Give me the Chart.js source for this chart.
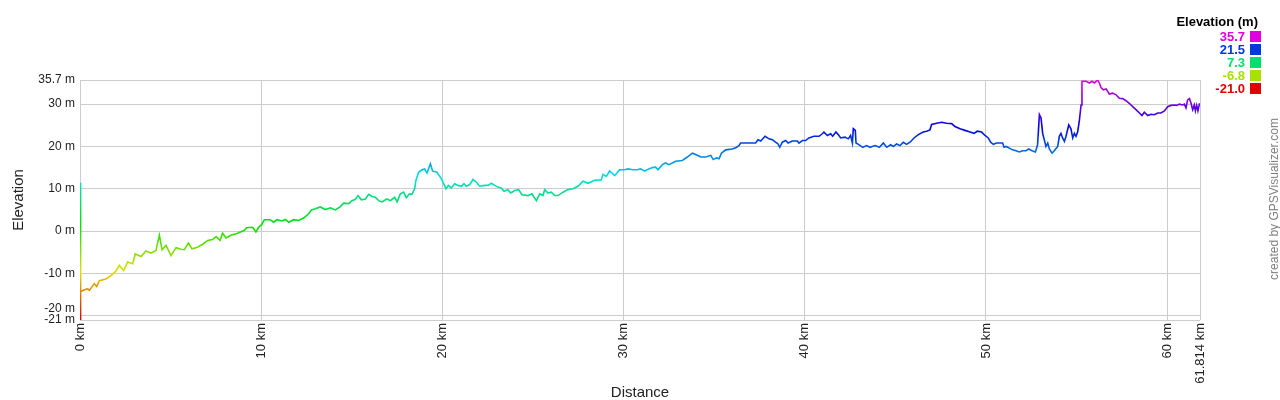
<!DOCTYPE html>
<html>
<head>
<meta charset="utf-8">
<script src="https://cdn.jsdelivr.net/npm/chart.js@4/dist/chart.umd.min.js"></script>
<style>
html,body{margin:0;padding:0;background:#fff;}
#wrap{position:relative;width:1280px;height:400px;overflow:hidden;font-family:"Liberation Sans",Arial,sans-serif;}
canvas{position:absolute;left:0;top:0;}
#legTitle{position:absolute;right:22px;top:14px;font-weight:bold;font-size:13px;line-height:15px;color:#000;white-space:nowrap;}
.legRow{position:absolute;right:35px;font-weight:bold;font-size:13px;line-height:15px;white-space:nowrap;text-align:right;}
.legBox{position:absolute;left:1250px;width:11px;height:11px;}
#credit{position:absolute;left:1174px;top:192px;width:200px;text-align:center;font-size:12px;line-height:14px;color:#808080;transform:rotate(-90deg);transform-origin:50% 50%;white-space:nowrap;}
</style>
</head>
<body>
<div id="wrap">
<canvas id="c" width="1280" height="400"></canvas>
<div id="legTitle">Elevation (m)</div>
<div id="credit">created by GPSVisualizer.com</div>
</div>
<script>
// ---- data ----
const distanceKm = [
0,0.01,0.03,0.055,0.15,0.42,0.52,0.79,0.92,1.07,1.43,1.71,1.99,2.17,2.41,2.63,2.91,3.05,3.37,3.64,3.92,4.19,4.38,4.53,4.75,5.02,5.30,5.57,5.76,5.98,6.18,6.44,6.77,7.05,7.32,7.51,7.73,7.87,8.06,8.33,8.70,9.07,9.20,9.53,9.71,9.86,10.04,10.17,
10.50,10.69,10.87,11.15,11.33,11.52,11.79,12.07,12.34,12.62,12.77,12.99,13.26,13.54,13.82,14.09,14.37,14.55,14.83,15.01,15.20,15.34,15.53,15.75,15.93,16.12,16.30,16.48,16.67,16.94,17.13,17.37,17.50,17.68,17.86,18.01,18.18,18.32,18.47,18.54,18.69,18.88,19.02,19.15,19.34,19.46,19.70,19.94,20.07,20.20,
20.33,20.49,20.68,20.86,21.05,21.19,21.32,21.51,21.69,21.87,22.06,22.33,22.52,22.70,22.89,23.07,23.25,23.40,23.62,23.77,23.99,24.21,24.39,24.73,24.95,25.06,25.19,25.37,25.55,25.65,25.83,26.01,26.20,26.38,26.66,26.93,27.21,27.48,27.76,28.04,28.40,28.77,28.86,29.05,29.23,29.42,29.51,29.78,30.06,30.24,30.52,
30.76,30.94,31.16,31.40,31.59,31.77,31.90,32.14,32.32,32.51,32.69,32.88,33.24,33.52,33.80,34.07,34.26,34.53,34.81,34.95,35.14,35.27,35.40,35.64,36.00,36.19,36.37,36.46,36.83,37.29,37.42,37.57,37.81,38.03,38.21,38.39,38.52,38.62,38.76,38.95,39.08,39.31,39.59,39.68,39.87,40.05,40.23,40.51,40.79,40.97,
41.06,41.25,41.43,41.54,41.72,41.85,41.98,42.22,42.40,42.53,42.63,42.68,42.79,42.83,42.96,43.20,43.42,43.60,43.88,44.12,44.34,44.52,44.74,44.89,45.07,45.26,45.44,45.62,45.81,46.03,46.27,46.54,46.73,46.91,47.00,47.28,47.56,47.83,48.11,48.29,48.57,48.84,49.12,49.34,49.52,49.76,49.95,50.13,50.26,50.41,50.59,50.92,51.00,
51.11,51.29,51.47,51.66,51.84,52.03,52.21,52.36,52.54,52.73,52.85,52.95,53.04,53.13,53.22,53.31,53.41,53.50,53.65,53.77,53.96,54.05,54.14,54.23,54.33,54.42,54.57,54.69,54.79,54.88,54.97,55.06,55.15,55.25,55.30,55.52,55.71,55.85,55.98,56.17,56.26,56.35,56.48,56.63,56.81,56.99,57.18,57.36,57.55,57.73,57.91,58.10,58.28,58.47,58.61,58.74,58.93,59.11,59.29,59.48,59.66,59.85,60.03,60.21,60.40,60.53,60.67,60.86,60.95,61.04,61.13,61.23,61.32,61.41,61.50,61.56,61.63,61.70,61.78,61.814
];
const elevationM = [
11.4,-21.0,-15.0,-14.4,-14.0,-13.6,-14.0,-12.4,-13.1,-11.7,-11.3,-10.5,-9.4,-8.1,-9.3,-7.3,-7.7,-5.4,-6.0,-4.7,-5.2,-4.6,-1.0,-4.4,-3.4,-5.8,-3.9,-4.3,-4.4,-2.8,-4.2,-3.9,-3.1,-2.2,-2.0,-1.3,-2.2,-0.5,-1.6,-1.0,-0.5,0.2,0.8,0.9,-0.2,0.9,1.6,2.7,
2.7,2.1,2.7,2.4,2.75,2.1,2.7,2.5,3.1,4.1,5.0,5.3,5.7,5.1,5.5,5.0,5.8,6.6,6.5,7.2,7.5,8.4,7.4,7.6,8.7,8.2,8.0,7.2,6.9,7.6,7.2,8.0,6.9,8.8,9.2,7.9,8.8,8.7,10.0,12.0,13.9,14.5,14.7,13.7,15.9,14.2,13.9,12.4,11.2,10.0,
10.8,10.2,11.2,10.8,10.6,11.2,10.6,11.0,12.2,11.6,10.6,10.8,10.8,11.3,10.8,10.4,10.2,9.4,9.8,9.0,9.6,9.8,8.6,8.4,8.8,8.0,7.2,8.8,8.4,9.8,9.0,9.2,8.4,8.4,9.2,9.8,10.0,10.6,11.8,11.3,12.0,12.1,13.4,12.9,14.2,13.5,13.1,14.5,14.5,14.7,14.5,
14.5,14.7,14.2,14.7,15.0,15.1,14.5,15.7,16.1,15.7,16.1,16.5,16.7,17.5,18.4,17.9,17.5,17.5,17.9,16.9,17.3,17.1,18.4,19.2,19.4,19.7,20.2,20.8,20.8,20.8,21.6,21.3,22.4,21.8,21.6,21.0,20.6,19.8,21.0,21.4,20.8,21.3,21.3,20.8,21.4,21.4,22.0,22.4,22.4,23.0,
23.4,22.6,23.0,22.4,23.4,22.8,22.0,22.2,21.8,22.6,20.8,24.2,23.8,20.8,20.5,19.8,20.2,19.8,20.2,19.8,20.8,19.8,20.4,20.0,20.6,20.2,21.0,20.5,21.0,22.0,22.8,23.4,23.6,23.9,25.2,25.5,25.7,25.5,25.4,24.7,24.2,23.8,23.4,23.1,23.6,23.4,22.6,22.0,21.0,20.5,20.8,20.8,19.8,
20.0,19.6,19.2,19.0,18.7,19.0,19.0,19.4,19.0,18.7,20.4,27.5,26.7,23.1,21.6,20.0,20.8,19.4,18.4,19.0,20.0,22.4,23.1,22.0,21.2,22.4,25.1,24.2,22.0,23.1,22.4,23.4,25.9,29.8,35.4,35.4,35.0,35.4,35.0,35.7,35.0,33.9,33.4,33.6,32.4,32.6,32.2,31.4,31.3,30.8,30.2,29.4,28.7,27.9,27.3,28.1,27.3,27.6,27.5,27.9,27.9,28.4,29.4,29.7,29.8,29.7,30.0,29.8,30.0,29.1,31.0,31.3,30.2,28.7,29.8,28.4,29.7,28.4,30.0,30.0
];
const xTickValues = [0,10,20,30,40,50,60,61.814];
const yTickValues = [-21,-20,-10,0,10,20,30,35.7];
const legendLevels = [35.7,21.5,7.3,-6.8,-21.0];

// ---- colour helpers ----
const ELEV_MIN = -21.0, ELEV_MAX = 35.7;
function hsv(h, s, v){
  const c = v*s, hp = h/60, x = c*(1-Math.abs(hp%2-1));
  let r=0,g=0,b=0;
  if(hp<1){r=c;g=x;}else if(hp<2){r=x;g=c;}else if(hp<3){g=c;b=x;}
  else if(hp<4){g=x;b=c;}else if(hp<5){r=x;b=c;}else{r=c;b=x;}
  const m = v-c;
  return 'rgb('+Math.round((r+m)*255)+','+Math.round((g+m)*255)+','+Math.round((b+m)*255)+')';
}
function colorFor(t){ return hsv(Math.max(0,Math.min(1,t))*300, 1, 0.88); }

function lineGradient(chart){
  const area = chart.chartArea;
  if(!area) return '#00c000';
  const ys = chart.scales.y;
  const y0 = ys.getPixelForValue(ELEV_MIN), y1 = ys.getPixelForValue(ELEV_MAX);
  const g = chart.ctx.createLinearGradient(0, y0, 0, y1);
  for(let i=0;i<=40;i++){ const t=i/40; g.addColorStop(t, colorFor(t)); }
  return g;
}

// ---- legend (HTML text) ----
const wrap = document.getElementById('wrap');
legendLevels.forEach((v,i)=>{
  const cy = 36 + i*13.2;
  const col = colorFor((v-ELEV_MIN)/(ELEV_MAX-ELEV_MIN));
  const t = document.createElement('div');
  t.className='legRow'; t.style.top=(cy-7.5)+'px'; t.style.color=col; t.textContent=v.toFixed(1);
  wrap.appendChild(t);
  const b = document.createElement('div');
  b.className='legBox'; b.style.top=Math.round(cy-5.5)+'px'; b.style.background=col;
  wrap.appendChild(b);
});

// ---- chart ----
const FONT = 'Liberation Sans';
new Chart(document.getElementById('c'), {
  type:'line',
  data:{datasets:[{
    data: distanceKm.map((d,i)=>({x:d,y:elevationM[i]})),
    borderColor: ctx => lineGradient(ctx.chart),
    borderWidth: 1.6, pointRadius: 0, tension: 0, fill: false,
    borderJoinStyle:'miter'
  }]},
  options:{
    responsive:false, animation:false, devicePixelRatio:1,
    layout:{padding:{left:0,right:80,top:80,bottom:0}},
    plugins:{legend:{display:false}, tooltip:{enabled:false}},
    scales:{
      x:{
        type:'linear', min:0, max:61.814,
        afterBuildTicks: s => { s.ticks = xTickValues.map(v=>({value:v})); },
        afterFit: s => { s.height = 80; },
        grid:{color:'#cccccc', drawTicks:false, lineWidth:1},
        border:{display:false},
        ticks:{autoSkip:false, minRotation:90, maxRotation:90, padding:3,
          font:{family:FONT,size:13}, color:'#222',
          callback: v => v + ' km'},
        title:{display:true, text:'Distance', font:{family:FONT,size:15,lineHeight:1}, color:'#222', padding:{top:0,bottom:0}}
      },
      y:{
        type:'linear', min:ELEV_MIN, max:ELEV_MAX,
        afterBuildTicks: s => { s.ticks = yTickValues.map(v=>({value:v})); },
        afterFit: s => { s.width = 80; },
        grid:{color:'#cccccc', drawTicks:false, lineWidth:1},
        border:{display:false},
        ticks:{autoSkip:false, padding:5, font:{family:FONT,size:12}, color:'#222',
          callback: v => (v === -20 ? ['-20 m',''] : v + ' m')},
        title:{display:true, text:'Elevation', font:{family:FONT,size:15,lineHeight:1}, color:'#222', padding:{top:11,bottom:0}}
      }
    }
  }
});
</script>
</body>
</html>
